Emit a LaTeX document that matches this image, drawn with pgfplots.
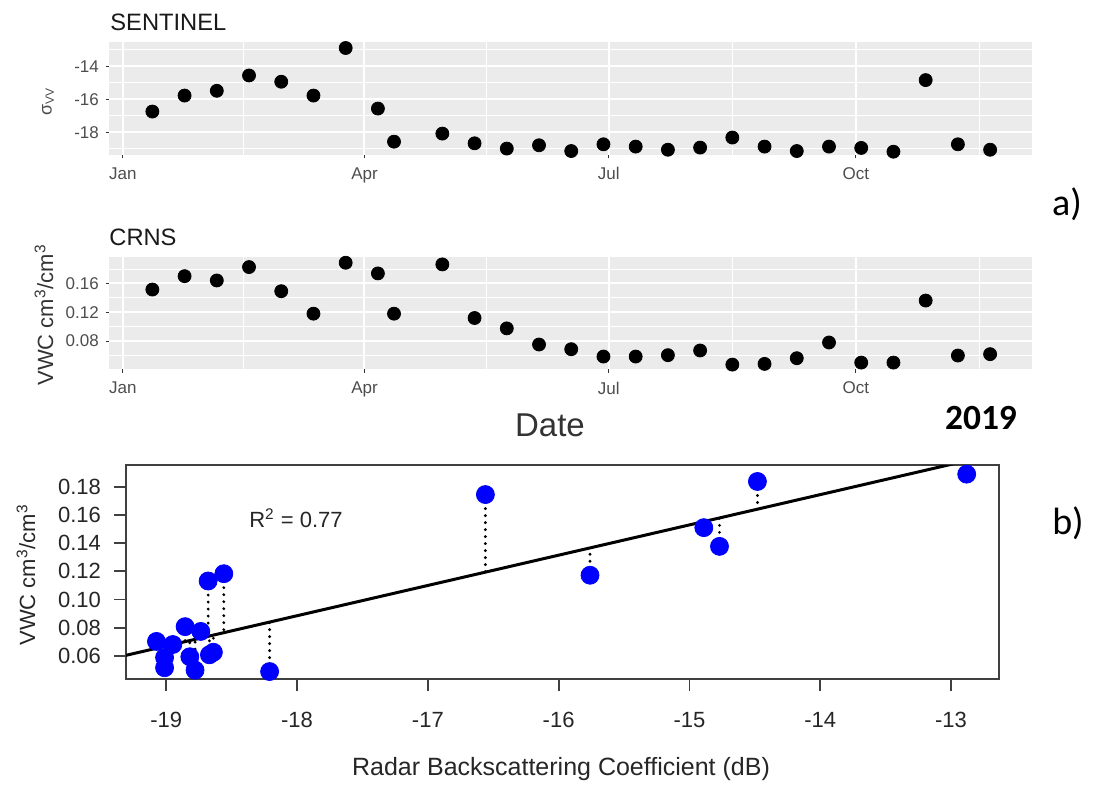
\documentclass[border=0pt]{standalone}
\usepackage{fontspec}
\setmainfont{Liberation Sans}
\newfontfamily\calibri{Carlito}
\usepackage{pgfplots}
\usepackage{pgfplotstable}
\pgfplotsset{compat=1.18}

\definecolor{ggbg}{HTML}{EBEBEB}
\definecolor{ggtext}{HTML}{4D4D4D}
\definecolor{ggtick}{HTML}{333333}
\definecolor{rblue}{RGB}{0,0,255}

% time series, day of year 2019
\pgfplotstableread{
day sigma vwc
11 -16.74 0.1516
23 -15.77 0.1702
35 -15.48 0.1642
47 -14.55 0.1828
59 -14.93 0.1493
71 -15.77 0.1181
83 -12.88 0.1888
95 -16.56 0.1740
101 -18.57 0.1181
119 -18.08 0.1865
131 -18.67 0.1121
143 -18.99 0.0977
155 -18.79 0.0753
167 -19.14 0.0688
179 -18.73 0.0586
191 -18.87 0.0586
203 -19.06 0.0605
215 -18.93 0.0670
227 -18.32 0.0474
239 -18.87 0.0484
251 -19.14 0.0563
263 -18.87 0.0781
275 -18.95 0.0502
287 -19.18 0.0502
299 -14.83 0.1363
311 -18.73 0.0600
323 -19.06 0.0619
}\tsdata

% scatter: backscatter, vwc, fitted vwc
\pgfplotstableread{
x y f
-12.88 0.1890 0.1987
-14.48 0.1838 0.1643
-14.89 0.1510 0.1555
-14.77 0.1377 0.1581
-15.76 0.1172 0.1368
-16.56 0.1745 0.1196
-18.56 0.1183 0.0766
-18.68 0.1131 0.0740
-18.21 0.0488 0.0841
-19.075 0.0702 0.0655
-19.013 0.0588 0.0668
-19.013 0.0515 0.0668
-18.95 0.0680 0.0682
-18.856 0.0807 0.0702
-18.736 0.0773 0.0728
-18.82 0.0593 0.0710
-18.78 0.0498 0.0719
-18.67 0.0607 0.0742
-18.64 0.0625 0.0749
}\scdata

\pgfplotsset{ggpanel/.style={
  scale only axis, width=461.3pt, height=56.3pt,
  anchor=south west,
  axis background/.style={fill=ggbg},
  axis line style={draw=none},
  grid=both,
  major grid style={white, line width=1pt},
  minor grid style={white, line width=0.5pt},
  tick align=outside, tick pos=left,
  major tick length=1.75pt, minor tick length=0pt,
  tick style={ggtick, line width=0.5pt},
  xmin=-5, xmax=338.6,
  xtick={0,90,181,273}, xticklabels={Jan,Apr,Jul,Oct},
  minor xtick={45,135.5,227,319},
  ticklabel style={font=\fontsize{8.5}{10}\selectfont, text=ggtext},
  xticklabel style={yshift=-1pt},
  /pgf/number format/assume math mode=true,
}}

\begin{document}
\begin{tikzpicture}
\path[use as bounding box] (0,0) rectangle (547pt,-392.5pt);

% SENTINEL
\begin{axis}[ggpanel, at={(54.7pt,-77.5pt)},
  ymin=-19.38, ymax=-12.54,
  ytick={-18,-16,-14}, minor ytick={-19,-17,-15,-13}]
  \addplot[only marks, mark=*, mark size=3.25pt, black] table[x=day, y=sigma] {\tsdata};
\end{axis}

% CRNS
\begin{axis}[ggpanel, at={(54.7pt,-184.65pt)},
  ymin=0.0409, ymax=0.1972,
  ytick={0.08,0.12,0.16}, minor ytick={0.06,0.10,0.14,0.18},
  yticklabel style={/pgf/number format/.cd, fixed, fixed zerofill, precision=2}]
  \addplot[only marks, mark=*, mark size=3.25pt, black] table[x=day, y=vwc] {\tsdata};
\end{axis}

% scatter
\begin{axis}[scale only axis, width=436.5pt, height=107.15pt,
  anchor=south west, at={(63pt,-339.65pt)},
  xmin=-19.308, xmax=-12.633, ymin=0.0433, ymax=0.1955,
  axis line style={draw=black!75, line width=1pt},
  tick align=outside, tick pos=left, major tick length=6pt,
  tick style={black!75, line width=0.9pt},
  xtick={-19,-18,-17,-16,-15,-14,-13},
  ytick={0.06,0.08,0.10,0.12,0.14,0.16,0.18},
  minor tick num=0,
  ticklabel style={font=\fontsize{11}{13}\selectfont, text=black!85},
  xticklabel style={yshift=-7pt},
  yticklabel style={xshift=-3pt, /pgf/number format/.cd, fixed, fixed zerofill, precision=2},
  /pgf/number format/assume math mode=true]
  \addplot[only marks, mark=*, mark size=4.5pt, rblue] table[x=x, y=y] {\scdata};
  \addplot[black, line width=1.5pt] coordinates {(-19.6,0.05405) (-12.4,0.20885)};
  \addplot[black, line width=1.6pt, line cap=round, dash pattern=on 0pt off 3.5pt, quiver={u=0, v=\thisrow{f}-\thisrow{y}}] table[x=x, y=y] {\scdata};
  \node[font=\fontsize{11}{13}\selectfont, text=black!85] at (axis cs:-18.008,0.158) {R\textsuperscript{2} = 0.77};
\end{axis}

% labels
\node[anchor=west, inner sep=0, font=\fontsize{11.85}{14}\selectfont, text=black!90] at (55pt,-11.25pt) {SENTINEL};
\node[anchor=west, inner sep=0, font=\fontsize{11.85}{14}\selectfont, text=black!90] at (54.5pt,-118.5pt) {CRNS};
\node[rotate=90, inner sep=0, font=\fontsize{9}{11}\selectfont, text=ggtext] at (24pt,-50.75pt) {σ\textsubscript{VV}};
\node[rotate=90, inner sep=0, font=\fontsize{11}{13}\selectfont, text=black!80] at (22pt,-157.5pt) {VWC cm\textsuperscript{3}/cm\textsuperscript{3}};
\node[inner sep=0, font=\fontsize{16.5}{19}\selectfont, text=black!80] at (275pt,-212.5pt) {Date};
\node[inner sep=0, font=\calibri\bfseries\fontsize{17.7}{20}\selectfont] at (490.5pt,-209pt) {2019};
\node[inner sep=0, font=\calibri\fontsize{19}{22}\selectfont] at (533.5pt,-102.25pt) {a)};
\node[inner sep=0, font=\calibri\fontsize{19}{22}\selectfont] at (534pt,-261.75pt) {b)};
\node[inner sep=0, font=\fontsize{12.5}{15}\selectfont, text=black!85] at (280.5pt,-384.5pt) {Radar Backscattering Coefficient (dB)};
\node[rotate=90, inner sep=0, font=\fontsize{11}{13}\selectfont, text=black!85] at (13pt,-287.5pt) {VWC cm\textsuperscript{3}/cm\textsuperscript{3}};
\end{tikzpicture}
\end{document}
